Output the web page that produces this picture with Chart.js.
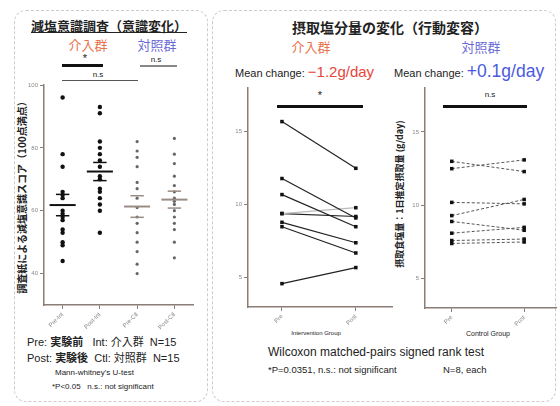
<!DOCTYPE html>
<html><head><meta charset="utf-8">
<script src="https://cdn.jsdelivr.net/npm/chart.js@4/dist/chart.umd.min.js"></script>
<style>
body{margin:0;width:560px;height:406px;position:relative;background:#fff;overflow:hidden;font-family:"Liberation Sans","Noto Sans CJK JP",sans-serif;color:#222;}
.t{position:absolute;white-space:nowrap;line-height:1;}
.c{transform:translateX(-50%);}
.jp{font-family:"Noto Sans CJK JP",sans-serif;}
.r{position:absolute;white-space:nowrap;line-height:1;transform:translate(-50%,-50%) rotate(-90deg);}
canvas{position:absolute;}
.frame{position:absolute;border:1px dashed #cfcaca;border-radius:12px;}
.bar{position:absolute;}
</style></head><body>
<div class="frame" style="left:14px;top:10px;width:192px;height:390px;"></div>
<div class="frame" style="left:212px;top:10px;width:342px;height:390px;"></div>

<!-- left panel texts -->
<div class="t c jp" style="left:109px;top:19px;font-size:13px;font-weight:bold;text-decoration:underline;">減塩意識調査（意識変化）</div>
<div class="t c jp" style="left:88px;top:38px;font-size:13px;color:#e8714a;">介入群</div>
<div class="t c jp" style="left:157px;top:38px;font-size:13px;color:#6b6bd6;">対照群</div>
<div class="t c" style="left:85px;top:53px;font-size:11px;">*</div>
<div class="bar" style="left:62px;top:64px;width:41px;height:3px;background:#111;"></div>
<div class="t c" style="left:98px;top:71px;font-size:8px;">n.s</div>
<div class="bar" style="left:62px;top:80px;width:76px;height:1px;background:#555;"></div>
<div class="t c" style="left:156px;top:56px;font-size:8px;">n.s</div>
<div class="bar" style="left:140px;top:65px;width:37px;height:2px;background:#888;"></div>
<div class="r jp" style="left:22px;top:195px;font-size:10px;font-weight:bold;">調査紙による減塩意識スコア（100点満点）</div>

<div class="t" style="left:27px;top:336px;font-size:11px;">Pre: <b class="jp">実験前</b>&nbsp;&nbsp; Int: <span class="jp">介入群</span>&nbsp; N=15</div>
<div class="t" style="left:27px;top:352px;font-size:11px;">Post: <b class="jp">実験後</b>&nbsp; Ctl: <span class="jp">対照群</span>&nbsp; N=15</div>
<div class="t" style="left:55px;top:369px;font-size:8px;">Mann-whitney's U-test</div>
<div class="t" style="left:52px;top:383px;font-size:8px;">*P&lt;0.05&nbsp;&nbsp; n.s.: not significant</div>

<!-- right panel texts -->
<div class="t c jp" style="left:390px;top:20px;font-size:14px;font-weight:bold;">摂取塩分量の変化（行動変容）</div>
<div class="t c jp" style="left:311px;top:40px;font-size:13px;color:#e8714a;">介入群</div>
<div class="t c jp" style="left:481px;top:40px;font-size:13px;color:#6b6bd6;">対照群</div>
<div class="t" style="left:235px;top:64px;"><span style="font-size:11px;">Mean change: </span><span style="font-size:15px;color:#e8453a;">−1.2g/day</span></div>
<div class="t" style="left:394px;top:63px;"><span style="font-size:11px;">Mean change: </span><span style="font-size:17.5px;color:#4a5ae0;">+0.1g/day</span></div>
<div class="t c" style="left:320px;top:90px;font-size:11px;">*</div>
<div class="bar" style="left:277px;top:105px;width:86px;height:3px;background:#111;"></div>
<div class="t c" style="left:490px;top:91px;font-size:8px;">n.s</div>
<div class="bar" style="left:443px;top:105px;width:84px;height:3px;background:#111;"></div>
<div class="r jp" style="left:399px;top:194px;font-size:9px;font-weight:bold;">摂取食塩量：1日推定摂取量 (g/day)</div>
<div class="t c" style="left:316px;top:330px;font-size:6px;">Intervention Group</div>
<div class="t c" style="left:488px;top:330px;font-size:7px;">Control Group</div>
<div class="t" style="left:268px;top:346px;font-size:12px;">Wilcoxon matched-pairs signed rank test</div>
<div class="t" style="left:268px;top:365px;font-size:9.5px;">*P=0.0351, n.s.: not significant</div>
<div class="t" style="left:443px;top:365px;font-size:9.5px;">N=8, each</div>

<canvas id="c1" width="205" height="275" style="left:0;top:75px;"></canvas>
<canvas id="c2" width="175" height="260" style="left:225px;top:80px;"></canvas>
<canvas id="c3" width="175" height="260" style="left:385px;top:80px;"></canvas>

<script>
// ---- data: awareness score (left panel) ----
const groupLabels = ['Pre-Int', 'Post-Int', 'Pre-Ctl', 'Post-Ctl'];
const preInt  = [96, 78, 74, 66, 65, 64, 60, 59, 58, 57, 54, 53, 50, 49, 44];
const postInt = [93, 91, 82, 80, 78, 76, 74, 71, 70, 67, 66, 64, 62, 60, 53];
const preCtl  = [82, 79, 77, 74, 69, 67, 64, 61, 58, 56, 53, 50, 47, 43, 40];
const postCtl = [83, 78, 75, 71, 68, 66, 64, 63, 62, 60, 58, 56, 54, 50, 45];
const scoreTicks = [40, 60, 80, 100];

// ---- data: salt intake pairs (right panel) ----
const pairLabels = ['Pre', 'Post'];
const intPre  = [15.7, 11.8, 10.7, 9.4, 9.4, 8.8, 8.5, 4.6];
const intPost = [12.5, 9.1, 8.5, 9.8, 9.2, 7.4, 6.7, 5.7];
const ctlPre  = [13.0, 12.5, 10.2, 9.3, 8.9, 8.1, 7.6, 7.4];
const ctlPost = [12.3, 13.1, 10.1, 10.4, 8.3, 8.5, 7.7, 7.5];
const saltTicks = [5, 10, 15];

const axisCol = '#8a7d76';
const mean = a => a.reduce((s, v) => s + v, 0) / a.length;
const se = a => { const m = mean(a); return Math.sqrt(a.reduce((s, v) => s + (v - m) * (v - m), 0) / (a.length - 1) / a.length); };

// left chart datasets
const groups = [preInt, postInt, preCtl, postCtl];
const ds1 = [];
groups.forEach((g, i) => {
  const x = i + 1, ctl = i >= 2;
  const lc = ctl ? '#9a8c84' : '#111';
  const m = mean(g), s = se(g);
  ds1.push({type: 'line', data: [{x: x - 0.35, y: m}, {x: x + 0.35, y: m}], borderColor: lc, borderWidth: 2, pointRadius: 0, order: 0});
  ds1.push({type: 'line', data: [{x: x - 0.18, y: m + s}, {x: x + 0.18, y: m + s}], borderColor: lc, borderWidth: 1.5, pointRadius: 0, order: 0});
  ds1.push({type: 'line', data: [{x: x - 0.18, y: m - s}, {x: x + 0.18, y: m - s}], borderColor: lc, borderWidth: 1.5, pointRadius: 0, order: 0});
  ds1.push({type: 'scatter', data: g.map(v => ({x: x, y: v})), pointRadius: ctl ? 1.6 : 2.2,
    backgroundColor: ctl ? '#666' : '#111', borderWidth: 0, order: 1});
});

function yScale(min, max, ticks, width) {
  return {type: 'linear', min: min, max: max,
    afterBuildTicks: s => { s.ticks = ticks.map(v => ({value: v})); },
    afterFit: s => { s.width = width; },
    grid: {drawOnChartArea: false, tickLength: 4, color: axisCol, lineWidth: 1},
    border: {color: axisCol, width: 1.5},
    ticks: {font: {size: 6}, color: '#888', padding: 2}};
}
function xScale(min, max, labels, height) {
  return {type: 'linear', min: min, max: max,
    afterBuildTicks: s => { s.ticks = labels.map((l, i) => ({value: i + 1})); },
    afterFit: s => { s.height = height; },
    grid: {drawOnChartArea: false, tickLength: 4, color: axisCol, lineWidth: 1},
    border: {color: axisCol, width: 1.5},
    ticks: {font: {size: 6}, color: '#888', padding: 2, maxRotation: 45, minRotation: 45, autoSkip: false,
      callback: (v, i) => labels[i]}};
}
const common = {responsive: false, animation: false, devicePixelRatio: 1,
  plugins: {legend: {display: false}, tooltip: {enabled: false}}};

new Chart(document.getElementById('c1'), {
  type: 'scatter',
  data: {datasets: ds1},
  options: Object.assign({}, common, {
    layout: {padding: {left: 0, right: 12, top: 10, bottom: 0}},
    scales: {x: xScale(0.5, 4.5, groupLabels, 45), y: yScale(30, 100, scoreTicks, 44)}
  })
});

function pairSets(pre, post, dashed, greyIdx) {
  return pre.map((p, i) => ({
    type: 'line', data: [{x: 1, y: p}, {x: 2, y: post[i]}],
    borderColor: i === greyIdx ? '#bbb' : (dashed ? '#555' : '#222'),
    borderWidth: dashed ? 1 : 1.2, borderDash: dashed ? [3, 2] : [],
    pointStyle: 'rect', pointRadius: 2.5, pointBackgroundColor: '#111', pointBorderColor: '#111', pointBorderWidth: 0
  }));
}

new Chart(document.getElementById('c2'), {
  type: 'scatter',
  data: {datasets: pairSets(intPre, intPost, false, 3)},
  options: Object.assign({}, common, {
    layout: {padding: {left: 0, right: 8, top: 8, bottom: 0}},
    scales: {x: xScale(0.54, 2.49, pairLabels, 33), y: yScale(3, 18, saltTicks, 23)}
  })
});

new Chart(document.getElementById('c3'), {
  type: 'scatter',
  data: {datasets: pairSets(ctlPre, ctlPost, true, -1)},
  options: Object.assign({}, common, {
    layout: {padding: {left: 0, right: 3, top: 8, bottom: 0}},
    scales: {x: xScale(0.63, 2.44, pairLabels, 32), y: yScale(3, 18, saltTicks, 40)}
  })
});
</script>
</body></html>
